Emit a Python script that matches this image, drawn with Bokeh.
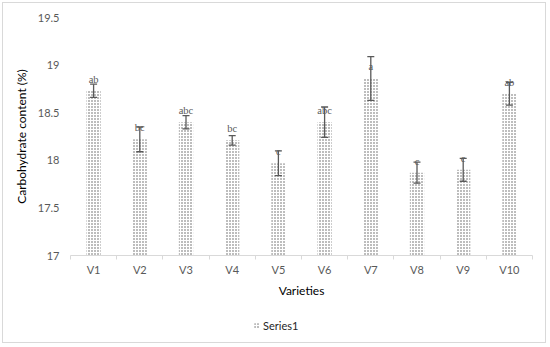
from bokeh.plotting import figure
from bokeh.layouts import column
from bokeh.models import (ColumnDataSource, Range1d, FixedTicker, Whisker, TeeHead,
                          LabelSet, Legend, LegendItem)
from bokeh.embed import file_html
from bokeh.resources import INLINE

categories = ["V1", "V2", "V3", "V4", "V5", "V6", "V7", "V8", "V9", "V10"]
values = [18.73, 18.22, 18.40, 18.21, 17.97, 18.40, 18.86, 17.87, 17.90, 18.70]
errors = [0.07, 0.13, 0.07, 0.05, 0.13, 0.16, 0.23, 0.11, 0.12, 0.12]
letters = ["ab", "bc", "abc", "bc", "c", "abc", "a", "c", "c", "ab"]
y_ticks = [17, 17.5, 18, 18.5, 19, 19.5]
y_tick_labels = ["17", "17.5", "18", "18.5", "19", "19.5"]
series_name = "Series1"

FONT = "Lato"
GRAY = "#595959"
BAR_STYLE = dict(fill_color="white", line_color=None, hatch_pattern="dot",
                 hatch_scale=3, hatch_weight=2, hatch_color="#5a5a5a")

xs = [i + 1 for i in range(len(categories))]
src = ColumnDataSource(dict(
    x=xs, top=values,
    upper=[v + e for v, e in zip(values, errors)],
    lower=[v - e for v, e in zip(values, errors)],
    letter=letters,
))

p = figure(width=548, height=300, output_backend="svg", toolbar_location=None,
           x_range=Range1d(0.5, len(categories) + 0.5), y_range=Range1d(17, 19.5),
           min_border_left=70, min_border_right=16, min_border_top=17, min_border_bottom=42)
p.outline_line_color = None
p.border_fill_color = None
p.background_fill_color = None
p.xgrid.visible = False
p.ygrid.visible = False

bars = p.vbar(x="x", top="top", bottom=17, width=0.31, source=src, **BAR_STYLE)

w = Whisker(base="x", upper="upper", lower="lower", source=src, level="annotation",
            line_color=GRAY, line_width=1.3,
            upper_head=TeeHead(size=7, line_color=GRAY, line_width=1.3),
            lower_head=TeeHead(size=7, line_color=GRAY, line_width=1.3))
p.add_layout(w)

labels = LabelSet(x="x", y="top", text="letter", source=src, y_offset=8,
                  text_align="center", text_baseline="alphabetic",
                  text_font=FONT, text_font_size="10.5px", text_color=GRAY)
p.add_layout(labels)

# x axis
p.xaxis.ticker = FixedTicker(ticks=xs, minor_ticks=[x - 0.5 for x in xs] + [xs[-1] + 0.5])
p.xaxis.major_label_overrides = {x: c for x, c in zip(xs, categories)}
p.xaxis.major_tick_line_color = None
p.xaxis.major_tick_out = 0
p.xaxis.major_tick_in = 0
p.xaxis.minor_tick_line_color = "#d9d9d9"
p.xaxis.minor_tick_out = 4
p.xaxis.minor_tick_in = 0
p.xaxis.axis_line_color = "#d9d9d9"
p.xaxis.major_label_standoff = 3
p.xaxis.major_label_text_font = FONT
p.xaxis.major_label_text_font_size = "11px"
p.xaxis.major_label_text_color = GRAY
p.xaxis.axis_label = "Varieties"
p.xaxis.axis_label_text_font = FONT
p.xaxis.axis_label_text_font_size = "12px"
p.xaxis.axis_label_text_font_style = "normal"
p.xaxis.axis_label_text_color = "#000000"
p.xaxis.axis_label_standoff = 4

# y axis
p.yaxis.ticker = FixedTicker(ticks=y_ticks, minor_ticks=[])
p.yaxis.major_label_overrides = {t: l for t, l in zip(y_ticks, y_tick_labels)}
p.yaxis.axis_line_color = None
p.yaxis.major_tick_line_color = None
p.yaxis.minor_tick_line_color = None
p.yaxis.major_tick_out = 0
p.yaxis.major_tick_in = 0
p.yaxis.minor_tick_out = 0
p.yaxis.minor_tick_in = 0
p.yaxis.major_label_standoff = 11
p.yaxis.major_label_text_font = FONT
p.yaxis.major_label_text_font_size = "11px"
p.yaxis.major_label_text_color = GRAY
p.yaxis.axis_label = "Carbohydrate content (%)"
p.yaxis.axis_label_text_font = FONT
p.yaxis.axis_label_text_font_size = "12px"
p.yaxis.axis_label_text_font_style = "normal"
p.yaxis.axis_label_text_color = "#000000"
p.yaxis.axis_label_standoff = 6

# legend strip (its swatch renderer shares the bar data but lies outside its own view)
q = figure(width=548, height=45, output_backend="svg", toolbar_location=None,
           x_range=Range1d(0, 1), y_range=Range1d(0, 1),
           min_border_left=0, min_border_right=0, min_border_top=0, min_border_bottom=0,
           x_axis_type=None, y_axis_type=None)
q.outline_line_color = None
q.border_fill_color = None
q.background_fill_color = None
q.xgrid.visible = False
q.ygrid.visible = False
swatch = q.vbar(x="x", top="top", bottom=17, width=0.31, source=src, **BAR_STYLE)
legend = Legend(items=[LegendItem(label=series_name, renderers=[swatch])],
                orientation="horizontal", location=(183, 13),
                border_line_color=None, background_fill_alpha=0,
                label_text_font=FONT, label_text_font_size="11px", label_text_color="#262626",
                glyph_width=7, glyph_height=7, label_standoff=3, padding=0, margin=0,
                label_height=13)
q.add_layout(legend)

layout = column(p, q, spacing=0)
layout.styles = {"outline": "1px solid #d9d9d9", "outline-offset": "-3px"}

open("out.html", "w").write(file_html(layout, INLINE))
